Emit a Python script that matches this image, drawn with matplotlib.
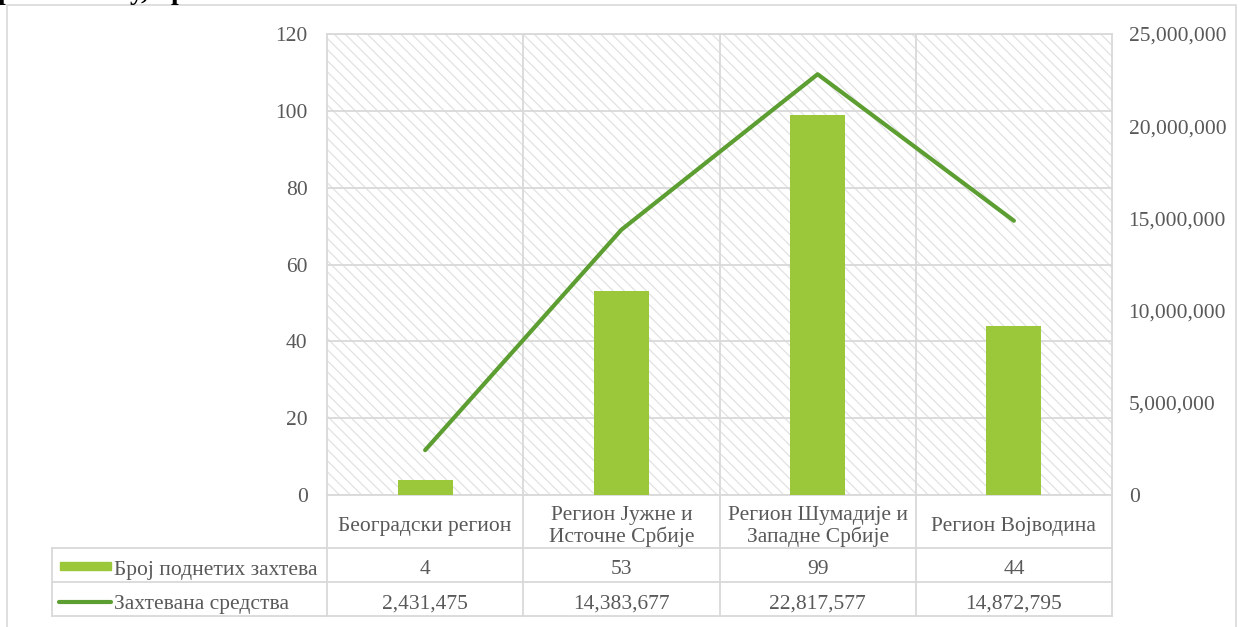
import matplotlib.pyplot as plt
import matplotlib.transforms as mtransforms
from matplotlib.patches import Rectangle
from matplotlib.lines import Line2D
from matplotlib.ticker import FuncFormatter

# data
regions = ['Београдски регион', 'Регион Јужне и\nИсточне Србије',
           'Регион Шумадије и\nЗападне Србије', 'Регион Војводина']
requests = [4, 53, 99, 44]
funds = [2431475, 14383677, 22817577, 14872795]
series_names = ['Број поднетих захтева', 'Захтевана средства']

bar_color = '#9BC83A'
line_color = '#5C9E31'
grid_color = '#D9D9D9'
text_color = '#595959'
fs = 15.5

plt.rcParams['font.family'] = ['Liberation Serif', 'DejaVu Serif']
plt.rcParams['hatch.linewidth'] = 0.9
plt.rcParams['hatch.color'] = '#E2E2E2'

fig = plt.figure(figsize=(12.44, 6.27), dpi=100)
W, H = 1244, 627

# outer frame of the chart
fig.patches.append(Rectangle((7 / W, -0.05), (1236 - 7) / W, 1.05 - 5 / H,
                             transform=fig.transFigure, fill=False,
                             edgecolor=grid_color, lw=1.2))
# title above, mostly cut off by the top edge
fig.text(-2 / W, 1 + 1 / H, 'регионалну, према', fontsize=20, fontweight='bold',
         color='black', ha='left', va='baseline')

ax = fig.add_axes([327 / W, 1 - 495 / H, (1112 - 327) / W, (495 - 34) / H])
x = list(range(len(regions)))

# hatched background
ax.add_patch(Rectangle((0, 0), 1, 1, transform=ax.transAxes, facecolor='white',
                       hatch='\\\\\\', edgecolor='#E2E2E2', lw=0, zorder=0.1))

ax.bar(x, requests, width=0.28, color=bar_color, zorder=2)
ax.set_xlim(-0.5, 3.5)
ax.set_ylim(0, 120)
ax.set_yticks(range(0, 121, 20))
ax.yaxis.grid(True, color=grid_color, lw=1.3, zorder=0.5)
ax.set_axisbelow(True)
ax.set_xticks([])
ax.tick_params(axis='y', length=0, pad=14, labelsize=fs, labelcolor=text_color)
for s in ax.spines.values():
    s.set_visible(False)

ax2 = ax.twinx()
ax2.plot(x, funds, color=line_color, lw=3, solid_capstyle='round', zorder=3)
ax2.set_ylim(0, 25000000)
ax2.set_yticks(range(0, 25000001, 5000000))
ax2.yaxis.set_major_formatter(FuncFormatter(lambda v, p: f'{int(v):,}'))
ax2.tick_params(axis='y', length=0, pad=12, labelsize=fs, labelcolor=text_color)
for s in ax2.spines.values():
    s.set_visible(False)

# data table below the plot (x in data units, y in axes fraction)
tr = mtransforms.blended_transform_factory(ax.transData, ax.transAxes)
ph = 495 - 34
r1 = -(548 - 495) / ph
r2 = -(582 - 495) / ph
r3 = -(616 - 495) / ph
left = -0.5 - (327 - 52) / 196.25
dy = -5 / ph  # text sits a bit lower than the cell middle

def tline(xs, ys):
    ax.add_line(Line2D(xs, ys, transform=tr, color=grid_color, lw=1.3,
                       clip_on=False, zorder=1))

tline([-0.5, 3.5], [1, 1])
tline([-0.5, 3.5], [0, 0])
for y in [r1, r2, r3]:
    tline([left, 3.5], [y, y])
for xv in [-0.5, 0.5, 1.5, 2.5, 3.5]:
    tline([xv, xv], [r3, 1])
tline([left, left], [r3, r1])

for i, name in enumerate(regions):
    ax.text(i, r1 / 2 + dy, name, transform=tr, ha='center', va='center',
            fontsize=fs, color=text_color, linespacing=1.1)
    ax.text(i, (r1 + r2) / 2 + dy, str(requests[i]), transform=tr, ha='center',
            va='center', fontsize=fs, color=text_color)
    ax.text(i, (r2 + r3) / 2 + dy, f'{funds[i]:,}', transform=tr, ha='center',
            va='center', fontsize=fs, color=text_color)

# legend keys inside the table
fig.patches.append(Rectangle((60 / W, 1 - 570 / H), 51 / W, 8 / H,
                             transform=fig.transFigure, color=bar_color))
fig.lines.append(Line2D([59 / W, 111 / W], [1 - 602 / H, 1 - 602 / H],
                        transform=fig.transFigure, color=line_color, lw=3,
                        solid_capstyle='round'))
fig.text(114 / W, 1 - 570 / H, series_names[0], fontsize=fs, color=text_color,
         ha='left', va='center')
fig.text(114 / W, 1 - 604 / H, series_names[1], fontsize=fs, color=text_color,
         ha='left', va='center')

fig.savefig('out.png', dpi=100)
